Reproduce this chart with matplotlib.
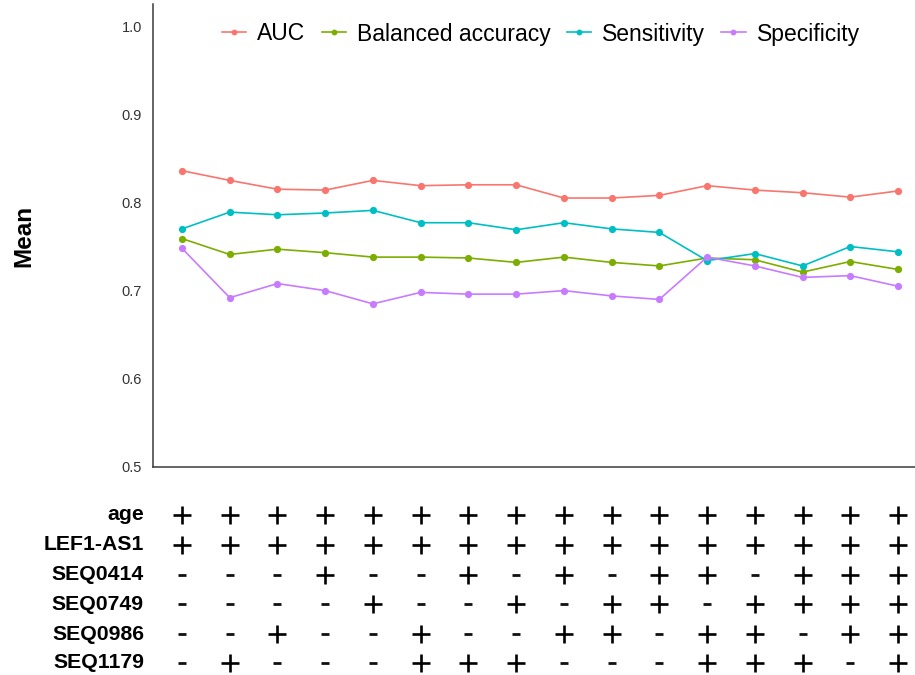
import matplotlib
matplotlib.use("Agg")
import matplotlib.pyplot as plt
import matplotlib.transforms as mtransforms
from matplotlib.lines import Line2D

plt.rcParams['font.family'] = ['Liberation Sans', 'DejaVu Sans']

# Model index (feature combination) and mean performance metrics
models = list(range(1, 17))
auc = [0.836, 0.825, 0.815, 0.814, 0.825, 0.819, 0.820, 0.820,
       0.805, 0.805, 0.808, 0.819, 0.814, 0.811, 0.806, 0.813]
balanced_accuracy = [0.759, 0.741, 0.747, 0.743, 0.738, 0.738, 0.737, 0.732,
                     0.738, 0.732, 0.728, 0.737, 0.735, 0.721, 0.733, 0.724]
sensitivity = [0.770, 0.789, 0.786, 0.788, 0.791, 0.777, 0.777, 0.769,
               0.777, 0.770, 0.766, 0.734, 0.742, 0.728, 0.750, 0.744]
specificity = [0.748, 0.692, 0.708, 0.700, 0.685, 0.698, 0.696, 0.696,
               0.700, 0.694, 0.690, 0.738, 0.728, 0.715, 0.717, 0.705]

series_names = ["AUC", "Balanced accuracy", "Sensitivity", "Specificity"]
series_colors = ["#F8766D", "#7CAE00", "#00BFC4", "#C77CFF"]

yticks = [0.5, 0.6, 0.7, 0.8, 0.9, 1.0]

# Feature inclusion table below the plot
features = ["age", "LEF1-AS1", "SEQ0414", "SEQ0749", "SEQ0986", "SEQ1179"]
inclusion = [
    "++++++++++++++++",
    "++++++++++++++++",
    "---+--+-+-++-+++",
    "----+--+-++-++++",
    "--+--+--++-++-++",
    "-+---+++---+++-+",
]

W, H = 915, 675
fig = plt.figure(figsize=(W / 100, H / 100), dpi=100)
ax = fig.add_axes([153 / W, (H - 467) / H, (W - 153) / W, (467 - 4) / H])

data = [auc, balanced_accuracy, sensitivity, specificity]
for vals, name, col in zip(data, series_names, series_colors):
    ax.plot(models, vals, color=col, lw=1.2, marker="o", ms=5.2,
            markeredgewidth=0, label=name)

ax.set_xlim(1 - 29 / 47.75, 16 + (W - 898) / 47.75)
ax.set_ylim(0.5, 1.025)
ax.set_yticks(yticks)
ax.set_yticklabels([f"{t:.1f}" for t in yticks])
ax.set_xticks([])
ax.tick_params(axis="y", length=0, pad=8, labelsize=10.5, labelcolor="#333333")
for s in ["top", "right"]:
    ax.spines[s].set_visible(False)
for s in ["left", "bottom"]:
    ax.spines[s].set_color("#3a3a3a")
    ax.spines[s].set_linewidth(1.1)

fig.text(24 / W, 1 - 236 / H, "Mean", rotation=90, ha="center", va="center",
         fontsize=17.5, fontweight="bold")

handles = [Line2D([0], [0], color=c, lw=1.2, marker="o", ms=4.2,
                  markeredgewidth=0) for c in series_colors]
ax.legend(handles, series_names, loc="center", ncol=4, frameon=False,
          bbox_to_anchor=(541 / W, 1 - 34 / H), bbox_transform=fig.transFigure,
          fontsize=16.5, handlelength=1.05, handletextpad=0.5,
          columnspacing=0.7, borderpad=0)

# Feature table: "+" where the feature is included, "-" otherwise
trans = mtransforms.blended_transform_factory(ax.transData, fig.transFigure)
row_y = [515, 545, 575, 604, 634, 663]
for feat, row, ypix in zip(features, inclusion, row_y):
    yf = 1 - ypix / H
    fig.text(144 / W, yf, feat, ha="right", va="center", fontsize=15.3,
             fontweight="bold")
    plus_x = [m for m, s in zip(models, row) if s == "+"]
    minus_x = [m for m, s in zip(models, row) if s == "-"]
    ax.plot(plus_x, [yf] * len(plus_x), transform=trans, ls="none",
            marker="+", ms=12.5, mew=1.9, color="black", clip_on=False)
    ax.plot(minus_x, [yf] * len(minus_x), transform=trans, ls="none",
            marker="_", ms=5.2, mew=2.0, color="#111111", clip_on=False)

fig.savefig("out.png", dpi=100)
